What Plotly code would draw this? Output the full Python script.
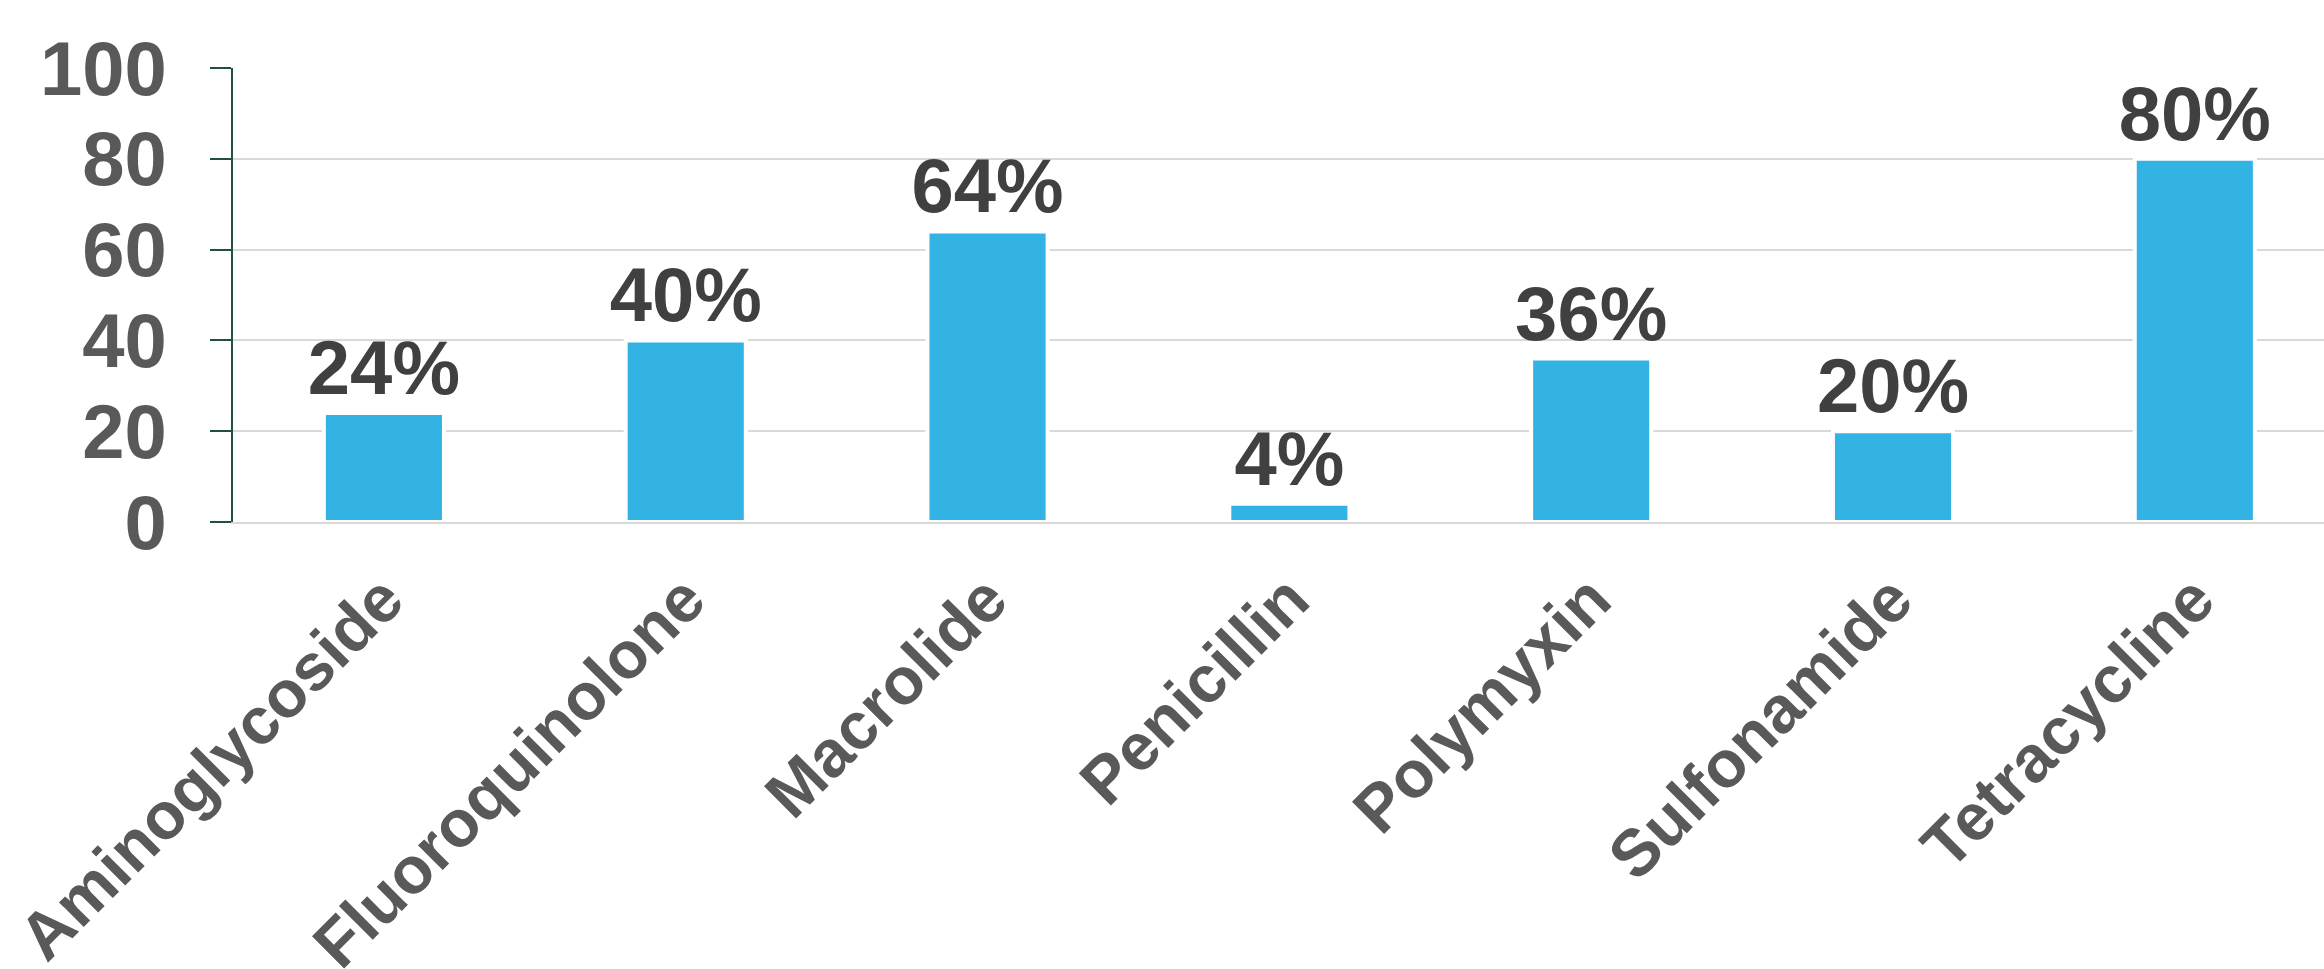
import plotly.graph_objects as go

categories = ["Aminoglycoside", "Fluoroquinolone", "Macrolide", "Penicillin",
              "Polymyxin", "Sulfonamide", "Tetracycline"]
values = [24, 40, 64, 4, 36, 20, 80]
labels = [f"{v}%" for v in values]
y_ticks = [0, 20, 40, 60, 80, 100]

FONT = "Arial, 'Liberation Sans', sans-serif"

fig = go.Figure(go.Bar(
    x=categories,
    y=values,
    text=labels,
    textposition="outside",
    constraintext="none",
    cliponaxis=False,
    textfont=dict(family=FONT, size=76, color="#404040", weight="bold"),
    marker=dict(color="#33B3E4", line=dict(color="white", width=4)),
    width=0.398,
    hoverinfo="skip",
))

fig.update_layout(
    width=2324, height=969,
    margin=dict(l=233, r=0, t=68, b=447, autoexpand=False),
    paper_bgcolor="white", plot_bgcolor="white",
    showlegend=False,
    xaxis=dict(
        range=[-0.5, 6.428],
        tickangle=-45,
        tickfont=dict(family=FONT, size=66, color="#595959", weight="bold"),
        showline=True, linecolor="#D9D9D9", linewidth=2,
        showgrid=False, zeroline=False, ticks="",
        layer="above traces",
        ticklabelstandoff=10,
        automargin=False,
    ),
    yaxis=dict(
        range=[0, 100],
        tickvals=y_ticks,
        tickfont=dict(family=FONT, size=76, color="#595959", weight="bold"),
        showline=True, linecolor="#1F5043", linewidth=2,
        ticks="outside", ticklen=21, tickwidth=2, tickcolor="#1F5043",
        showgrid=True, gridcolor="#D9D9D9", gridwidth=2,
        zeroline=False,
        ticklabelstandoff=28,
        automargin=False,
    ),
)

fig.write_html("out.html")
